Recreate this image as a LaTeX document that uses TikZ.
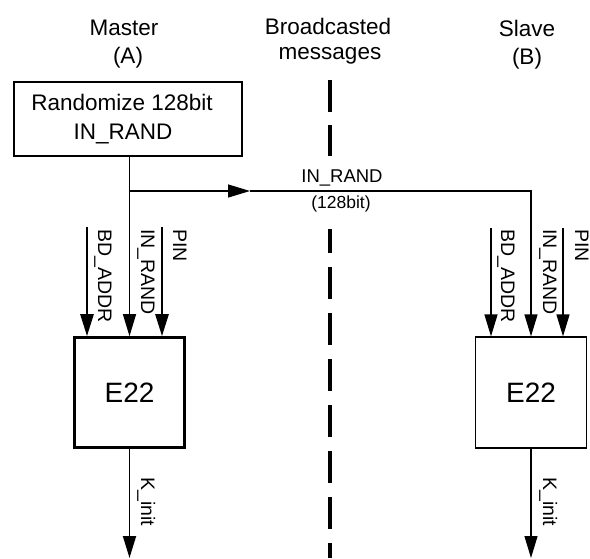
\documentclass[tikz,border=0pt]{standalone}
\usepackage{fontspec}
\setmainfont{Liberation Sans}
\usetikzlibrary{arrows.meta}
\begin{document}
\begin{tikzpicture}[x=1pt,y=-1pt,
  title/.style={inner sep=0pt, font=\fontsize{22.5}{22.5}\selectfont},
  boxed/.style={draw, line width=1.2pt, inner sep=0pt},
  tip/.style={-{Triangle[length=22pt,width=13pt]}},
  wire/.style={line width=1.2pt},
  heavy/.style={line width=2.6pt},
  vlbl/.style={rotate=-90, anchor=base west, inner sep=0pt, font=\fontsize{19.5}{19.5}\selectfont},
  sep/.style={line width=3.5pt}]
\useasboundingbox (0,0) rectangle (590,558);

% column titles
\node[title] (tA1) at (124,28) {Master};
\node[title] (tA2) at (128,58) {(A)};
\node[title] (tC1) at (328,26) {Broadcasted};
\node[title] (tC2) at (330,56) {messages};
\node[title] (tB1) at (527,28) {Slave};
\node[title] (tB2) at (527,59) {(B)};

% randomize box
\node[boxed, minimum width=228pt, minimum height=74pt] (rand) at (128,119) {};
\node[title] (randt1) at (122,102) {Randomize 128bit};
\node[title] (randt2) at (123,134) {IN\_RAND};

% E22 boxes
\node[boxed, line width=2.6pt, minimum width=110pt, minimum height=110pt,
      font=\fontsize{28}{28}\selectfont] (EA) at (129.5,392.5) {E22};
\node[boxed, minimum width=111pt, minimum height=111pt,
      font=\fontsize{28}{28}\selectfont] (EB) at (531,392.5) {E22};

% separator
\coordinate (s1) at (330,80);
\coordinate (s2) at (330,156);
\coordinate (s3) at (330,229);
\coordinate (s4) at (330,558);
\draw[sep, dash pattern=on 32pt off 13pt] (s1) -- (s2);
\draw[sep, dash pattern=on 32pt off 14pt, dash phase=8pt] (s3) -- (s4);

% broadcast
\coordinate (j) at (129.5,191);
\coordinate (m) at (250,191);
\draw[wire] (rand.south -| j) -- (j);
\draw[wire, tip] (j) -- (EA.north);
\draw[wire, tip] (j) -- (m);
\draw[wire, tip] (m) -| (EB.north);
\node[inner sep=0pt, font=\fontsize{18.5}{18.5}\selectfont] (l1) at (342,178) {IN\_RAND};
\node[inner sep=0pt, font=\fontsize{17.5}{17.5}\selectfont] (l2) at (341,204) {(128bit)};

% master inputs
\coordinate (bdA) at (87,227);
\coordinate (pinA) at (162,227);
\draw[heavy, tip] (bdA) -- (bdA |- EA.north);
\draw[heavy, tip] (pinA) -- (pinA |- EA.north);
\node[vlbl] (lbdA) at (98,229) {BD\_ADDR};
\node[vlbl] (lirA) at (141,229) {IN\_RAND};
\node[vlbl] (lpinA) at (173,229) {PIN};
\coordinate (kA) at (129.5,558);
\draw[wire, line width=1.8pt, tip] (EA.south) -- (kA);
\node[vlbl] (lkA) at (141,477) {K\_init};

% slave inputs
\coordinate (bdB) at (491,228);
\coordinate (pinB) at (563,228);
\draw[wire, tip] (bdB) -- (bdB |- EB.north);
\draw[wire, tip] (pinB) -- (pinB |- EB.north);
\node[vlbl] (lbdB) at (501,229) {BD\_ADDR};
\node[vlbl] (lirB) at (543,229) {IN\_RAND};
\node[vlbl] (lpinB) at (575,229) {PIN};
\coordinate (kB) at (531,558);
\draw[wire, tip] (EB.south) -- (kB);
\node[vlbl] (lkB) at (543,477) {K\_init};
\end{tikzpicture}
\end{document}
